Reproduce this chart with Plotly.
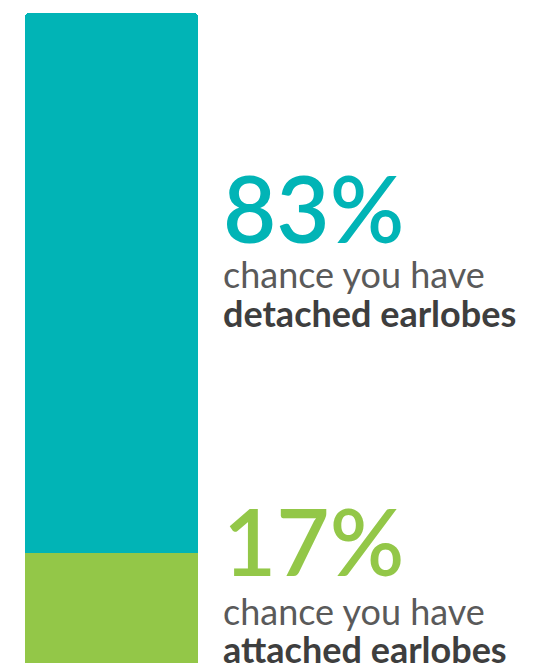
import plotly.graph_objects as go

categories = ["detached earlobes", "attached earlobes"]
values = [83, 17]
colors = ["#01B4B6", "#93C748"]
line1 = "chance you have"

W, H = 534, 669
fig = go.Figure()
# stack from bottom: attached (17) then detached (83)
for cat, val, col in reversed(list(zip(categories, values, colors))):
    fig.add_trace(go.Bar(x=[0], y=[val], width=1, marker=dict(color=col, line=dict(width=0)),
                         name=cat, showlegend=False, hoverinfo="skip"))

def py(px):
    return 1 - px / H

tx = 221 / W
big_centers = [208, 540]
l1_centers = [274, 611]
l2_centers = [313, 649]
for i, (cat, val, col) in enumerate(zip(categories, values, colors)):
    fig.add_annotation(text=f"{val}%", x=tx, y=py(big_centers[i]), xref="paper", yref="paper",
                       xanchor="left", yanchor="middle", showarrow=False,
                       font=dict(family="Lato", size=92, color=col, weight=600))
    fig.add_annotation(text=line1, x=tx, y=py(l1_centers[i]), xref="paper", yref="paper",
                       xanchor="left", yanchor="middle", showarrow=False,
                       font=dict(family="Lato", size=36, color="#5a5a5a"))
    fig.add_annotation(text=f"<b>{cat}</b>", x=tx, y=py(l2_centers[i]), xref="paper", yref="paper",
                       xanchor="left", yanchor="middle", showarrow=False,
                       font=dict(family="Lato", size=36, color="#3e3e3e"))

bw = 173.0
left_px = 25.0
cx = left_px + bw / 2
ppu = (663 - 13) / 100.0
fig.update_layout(
    width=W, height=H, margin=dict(l=0, r=0, t=0, b=0),
    paper_bgcolor="white", plot_bgcolor="white",
    barmode="stack", barcornerradius=4,
    xaxis=dict(range=[-cx / bw, (W - cx) / bw], visible=False, fixedrange=True),
    yaxis=dict(range=[-(H - 663) / ppu, 100 + 13 / ppu], visible=False, fixedrange=True),
)
fig.write_html("out.html", config={"displayModeBar": False})
